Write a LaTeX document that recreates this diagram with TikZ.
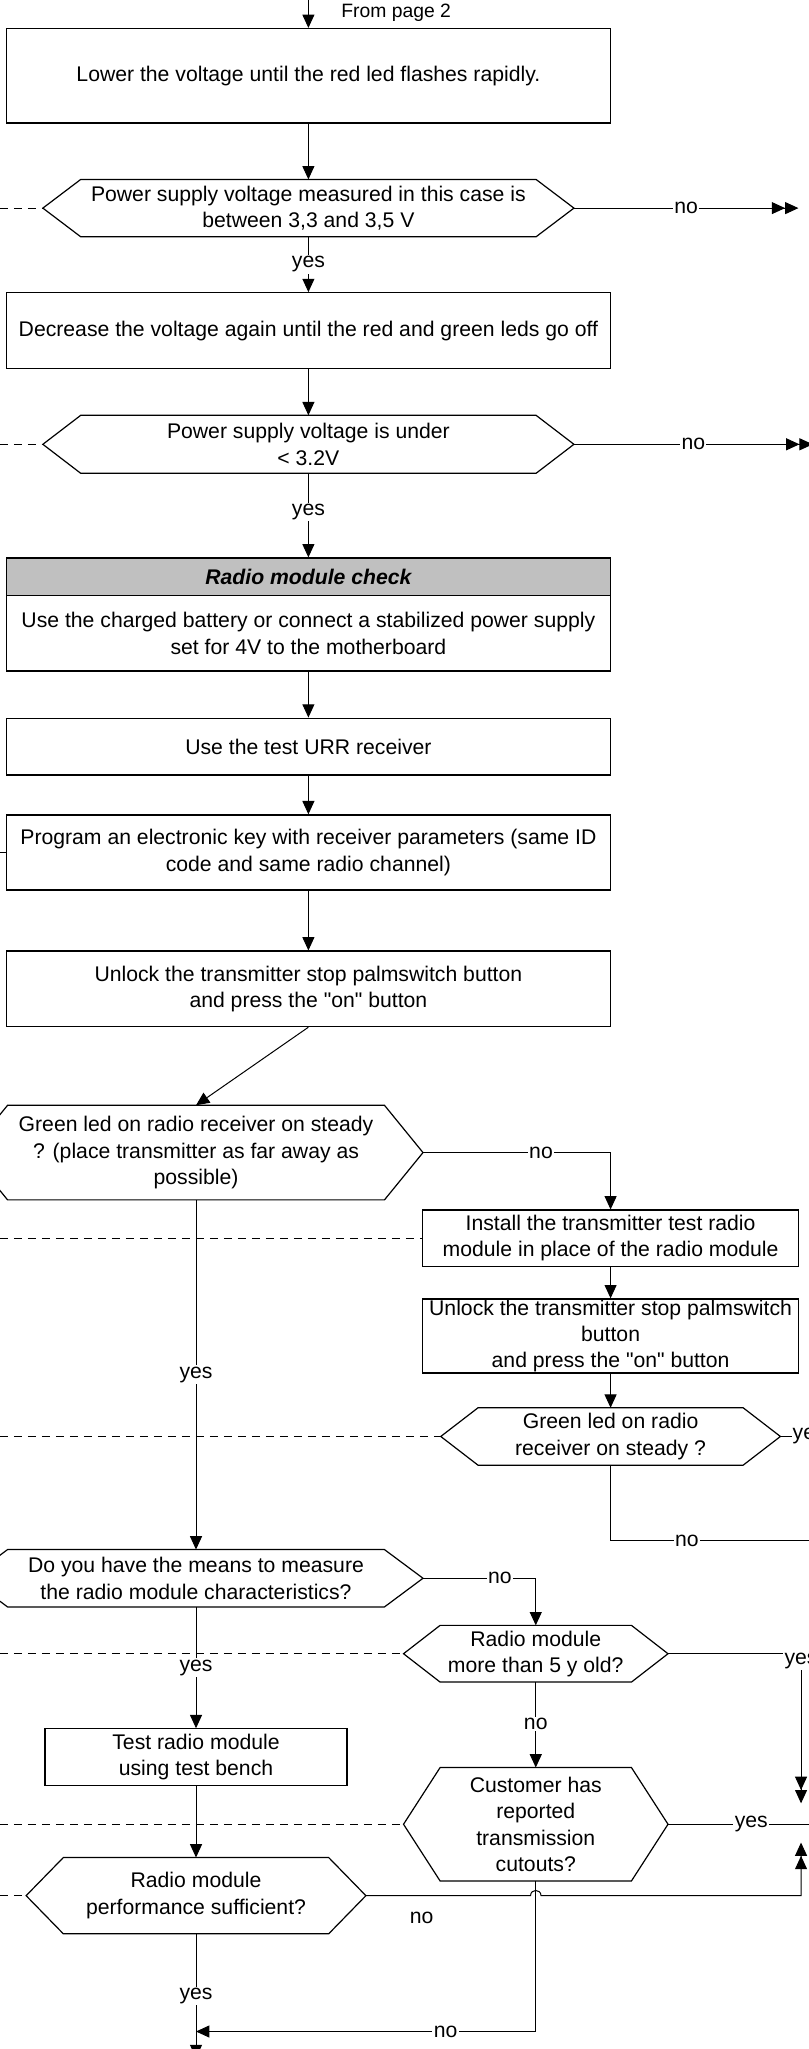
\documentclass[tikz,border=0pt]{standalone}
\usepackage{fontspec}
\setmainfont{Liberation Sans}[Ligatures=TeXOff]
\usetikzlibrary{arrows.meta,calc}
\definecolor{hdrgray}{HTML}{C0C0C0}
\newcommand\fs{\fontsize{15.9}{19.8}\selectfont}
\newcommand\fsmall{\fontsize{14.5}{16}\selectfont}
\newcommand\qq{\symbol{34}}
\newcommand\hexshape[2]{%
  \draw[boxline] (#1.west) -- ($(#1.north west)+(#2,0)$) -- ($(#1.north east)+(-#2,0)$) -- (#1.east) -- ($(#1.south east)+(-#2,0)$) -- ($(#1.south west)+(#2,0)$) -- cycle;}
\tikzset{
  base/.style={font=\fs, align=center, inner sep=0pt},
  boxline/.style={draw=black, line width=0.9pt},
  box/.style n args={2}{base, boxline, fill=white, minimum width={#1*0.98021pt}, minimum height={#2*0.98021pt}},
  hexn/.style n args={2}{base, minimum width={#1*0.98021pt}, minimum height={#2*0.98021pt}},
  ln/.style={line width=0.75pt},
  arr/.style={ln, -{Triangle[length=10pt,width=9pt]}},
  arrtwo/.style={ln, -{Triangle[length=10pt,width=9pt,sep=0pt]Triangle[length=10pt,width=9pt]}},
  dsh/.style={ln, dash pattern=on 6pt off 4.5pt},
  lbl/.style={font=\fs, fill=white, inner sep=1pt},
}
\begin{document}
\begin{tikzpicture}[x=0.98021pt, y=-0.98021pt]
\useasboundingbox (0,0) rectangle (619,1568);

% nodes
\node[box={462}{72.3}] (lower) at (236,58) {Lower the voltage until the red led flashes rapidly.};
\node[hexn={406}{43.5}] (h1) at (236,159.25) {Power supply voltage measured in this case is\\between 3,3 and 3,5 V};
\hexshape{h1}{29}
\node[box={462}{58}] (dec) at (236,253) {Decrease the voltage again until the red and green leds go off};
\node[hexn={406}{44}] (h2) at (236,340) {Power supply voltage is under\\< 3.2V};
\hexshape{h2}{29}
\node[box={462}{29}, fill=hdrgray, font=\fs\bfseries\itshape] (hdr) at (236,441.5) {Radio module check};
\node[box={462}{57.5}] (chg) at (236,484.75) {Use the charged battery or connect a stabilized power supply\\set for 4V to the motherboard};
\node[box={462}{43.4}] (urr) at (236,571.3) {Use the test URR receiver};
\node[box={462}{57.4}] (prog) at (236,652.3) {Program an electronic key with receiver parameters (same ID\\code and same radio channel)};
\node[box={462}{57.8}] (unl) at (236,756.7) {Unlock the transmitter stop palmswitch button\\and press the \qq on\qq{} button};
\node[hexn={347}{72}] (h3) at (150,882) {Green led on radio receiver on steady\\? (place transmitter as far away as\\possible)};
\hexshape{h3}{29.5}
\node[box={287.5}{43}] (inst) at (467.25,947.5) {Install the transmitter test radio\\module in place of the radio module};
\node[box={287.5}{56.7}] (unl2) at (467.25,1022.35) {Unlock the transmitter stop palmswitch\\button\\and press the \qq on\qq{} button};
\node[hexn={259.5}{43.5}] (h4) at (467.25,1099.25) {Green led on radio\\receiver on steady ?};
\hexshape{h4}{28.5}
\node[hexn={347}{43.5}] (h5) at (150,1207.75) {Do you have the means to measure\\the radio module characteristics?};
\hexshape{h5}{29.5}
\node[hexn={202}{43}] (h6) at (410,1265.5) {Radio module\\more than 5 y old?};
\hexshape{h6}{28}
\node[box={231}{43.5}] (tb) at (150,1344.75) {Test radio module\\using test bench};
\node[hexn={202}{86.4}] (h7) at (410,1396) {Customer has\\reported\\transmission\\cutouts?};
\hexshape{h7}{28}
\node[hexn={259.6}{58}] (h8) at (150,1450.65) {Radio module\\performance sufficient?};
\hexshape{h8}{28.5}

% connectors
\coordinate (top) at (236,0);
\draw[arr] (top) -- (lower.north);
\node[anchor=west, font=\fsmall, inner sep=0pt] (from) at (261,10) {From page 2};
\draw[arr] (lower.south) -- (h1.north);
\coordinate (h1no) at (611,159.25);
\draw[arrtwo] (h1.east) -- (h1no) node[lbl,pos=0.5] {no};
\coordinate (h1d) at (0,159.25);
\draw[dsh] (h1d) -- (h1.west);
\draw[arr] (h1.south) -- (dec.north) node[lbl,pos=0.5] {yes};
\draw[arr] (dec.south) -- (h2.north);
\coordinate (h2no) at (622,340);
\draw[arrtwo] (h2.east) -- (h2no) node[lbl,pos=0.5] {no};
\coordinate (h2d) at (0,340);
\draw[dsh] (h2d) -- (h2.west);
\draw[arr] (h2.south) -- (hdr.north) node[lbl,pos=0.46] {yes};
\draw[arr] (chg.south) -- (urr.north);
\draw[arr] (urr.south) -- (prog.north);
\coordinate (progl) at (0,652.3);
\draw[ln] (progl) -- (prog.west);
\draw[arr] (prog.south) -- (unl.north);
\draw[arr] (unl.south) -- (h3.north);
\draw[arr] (h3.east) -| (inst.north);
\node[lbl] at (414,882) {no};
\coordinate (instd) at (0,947.5);
\draw[dsh] (instd) -- (inst.west);
\draw[arr] (inst.south) -- (unl2.north);
\draw[arr] (unl2.south) -- (h4.north);
\coordinate (h4d) at (0,1099.25);
\draw[dsh] (h4d) -- (h4.west);
\draw[ln] (h4.east) -- ++(8.5,0) node[anchor=west, font=\fs, inner sep=0.5pt] {yes};
\coordinate (h4no) at (625,1179);
\draw[ln] (h4.south) |- (h4no);
\node[lbl] at (525.6,1179) {no};
\draw[arr] (h3.south) -- (h5.north) node[lbl,pos=0.5] {yes};
\draw[arr] (h5.east) -| (h6.north);
\node[lbl] at (382.6,1207.75) {no};
\coordinate (h6d) at (0,1265.5);
\draw[dsh] (h6d) -- (h6.west);
\coordinate (h6c) at (613,1265.5);
\coordinate (h6e) at (613,1380);
\draw[arrtwo] (h6.east) -- (h6c) -- (h6e);
\node[lbl] at (613,1271) {yes};
\draw[arr] (h6.south) -- (h7.north) node[lbl,pos=0.49] {no};
\coordinate (h7d) at (0,1396);
\draw[dsh] (h7d) -- (h7.west);
\coordinate (h7yes) at (625,1396);
\draw[ln] (h7.east) -- (h7yes) node[lbl,pos=0.56] {yes};
\draw[arr] (h5.south) -- (tb.north) node[lbl,pos=0.5] {yes};
\draw[arr] (tb.south) -- (h8.north);
\coordinate (h8d) at (0,1450.65);
\draw[dsh] (h8d) -- (h8.west);
\coordinate (h8c) at (613,1450.65);
\coordinate (h8e) at (613,1410);
\draw[arrtwo] (h8.east) -- (406,1450.65) .. controls (406,1445.3) and (414,1445.3) .. (414,1450.65) -- (h8c) -- (h8e);
\node[font=\fs, inner sep=0pt] (h8no) at (322.6,1468) {no};
\coordinate (h7m) at (150,1554.6);
\draw[arr] (h7.south) |- (h7m);
\node[lbl] at (341,1554.6) {no};
\coordinate (h8end) at (150,1575);
\draw[arr] (h8.south) -- (h8end) node[lbl,pos=0.5] {yes};
\end{tikzpicture}
\end{document}
